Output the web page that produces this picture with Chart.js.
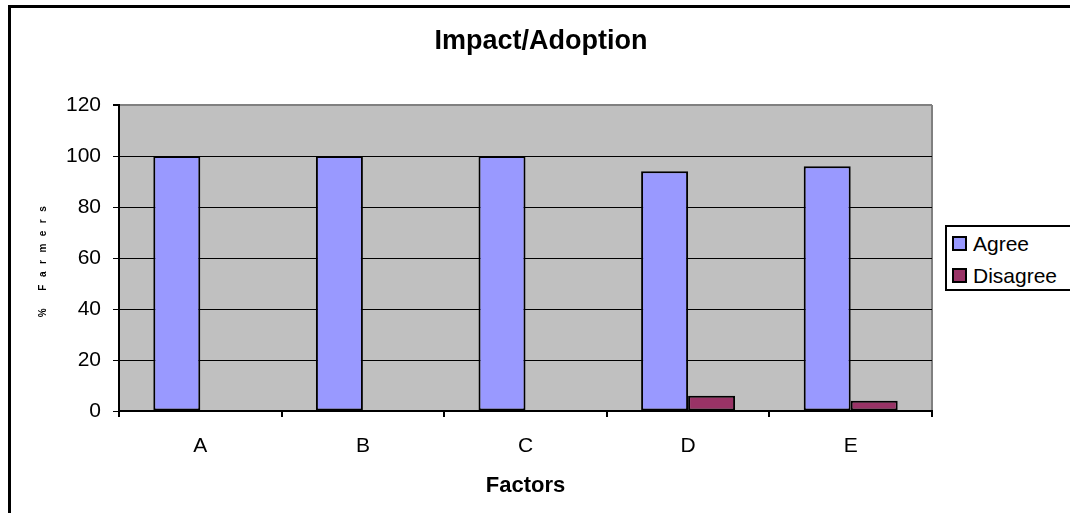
<!DOCTYPE html>
<html>
<head>
<meta charset="utf-8">
<script src="https://cdn.jsdelivr.net/npm/chart.js"></script>
<style>
  body { margin: 0; background: #fff; overflow: hidden; font-family: "Liberation Sans", Arial, sans-serif; }
  #wrap { position: relative; width: 1070px; height: 513px; }
  #frame { position: absolute; left: 8px; top: 5px; width: 1200px; height: 700px;
           border-left: 3px solid #000; border-top: 3px solid #000; pointer-events: none; }
  #legend { position: absolute; left: 945px; top: 225px; width: 140px; height: 62px;
            border: 2px solid #000; background: #fff; }
  .swatch { position: absolute; left: 5px; width: 15px; height: 15px; box-sizing: border-box; border: 2px solid #000; }
  .lbl { position: absolute; left: 26px; font-size: 21px; line-height: 21px; color: #000; white-space: nowrap; }
</style>
</head>
<body>
<div id="wrap">
  <canvas id="chart" width="1070" height="513"></canvas>
  <div id="frame"></div>
  <div id="legend"></div>
</div>
<script>
// data
var factors = ["A", "B", "C", "D", "E"];
var agree = [100, 100, 100, 94, 96];
var disagree = [0, 0, 0, 6, 4];
var seriesNames = ["Agree", "Disagree"];
var yMin = 0, yMax = 120, yStep = 20;

var chartTitle = "Impact/Adoption";
var xTitle = "Factors";
var yTitle = "% Farmers";

var seriesColors = ["#9999FF", "#993366"];
var font = "'Liberation Sans', Arial, sans-serif";

Chart.defaults.color = "#000";
Chart.defaults.font.family = font;

// gray plot area plus its gray right edge
var plotBack = {
  id: "plotBack",
  beforeDraw: function(chart) {
    var a = chart.chartArea, ctx = chart.ctx;
    ctx.save();
    ctx.fillStyle = "#C0C0C0";
    ctx.fillRect(a.left, a.top, a.right - a.left, a.bottom - a.top);
    ctx.strokeStyle = "#808080";
    ctx.lineWidth = 2;
    ctx.beginPath();
    ctx.moveTo(a.right, a.top);
    ctx.lineTo(a.right, a.bottom);
    ctx.stroke();
    ctx.restore();
  }
};

// spaced-out y title like the original
var yTitlePlugin = {
  id: "yTitlePlugin",
  afterDraw: function(chart) {
    var a = chart.chartArea, ctx = chart.ctx;
    ctx.save();
    ctx.translate(43, (a.top + a.bottom) / 2);
    ctx.rotate(-Math.PI / 2);
    ctx.font = "bold 10px " + font;
    ctx.letterSpacing = "7.5px";
    ctx.textAlign = "center";
    ctx.textBaseline = "middle";
    ctx.fillStyle = "#000";
    ctx.fillText(yTitle, 0, 0);
    ctx.restore();
  }
};

var ctx = document.getElementById("chart");
var myChart = new Chart(ctx, {
  type: "bar",
  data: {
    labels: factors,
    datasets: [{
      label: seriesNames[0],
      data: agree,
      backgroundColor: seriesColors[0],
      borderColor: "#000",
      borderWidth: 2,
      borderSkipped: false,
      barPercentage: 1,
      categoryPercentage: 0.578
    }, {
      label: seriesNames[1],
      data: disagree,
      backgroundColor: seriesColors[1],
      borderColor: "#000",
      borderWidth: 2,
      borderSkipped: false,
      barPercentage: 1,
      categoryPercentage: 0.578
    }]
  },
  options: {
    responsive: false,
    animation: false,
    layout: { padding: { left: 12, right: 0, top: 0, bottom: 0 } },
    plugins: {
      legend: { display: false },
      tooltip: { enabled: false },
      title: {
        display: true,
        text: chartTitle,
        color: "#000",
        font: { size: 27, weight: "bold" },
        padding: { top: 25, bottom: 47.6 }
      }
    },
    scales: {
      x: {
        grid: { display: true, offset: true, drawOnChartArea: false, color: "#000", tickLength: 6, lineWidth: 2 },
        border: { color: "#000", width: 2 },
        ticks: { font: { size: 21 }, padding: 17, color: "#000" },
        title: { display: true, text: xTitle, font: { size: 22, weight: "bold" }, padding: { top: 0, bottom: 14 }, color: "#000" },
        afterFit: function(s) { s.height = 102; }
      },
      y: {
        min: yMin,
        max: yMax,
        ticks: { stepSize: yStep, font: { size: 21 }, padding: 12, color: "#000" },
        grid: {
          color: function(c) { return c.tick && c.tick.value === yMax ? "#808080" : "#000"; },
          tickColor: "#000",
          tickLength: 6,
          lineWidth: function(c) { return c.tick && c.tick.value === yMax ? 2 : 1; }
        },
        border: { color: "#000", width: 2 },
        afterFit: function(s) { s.width = 107; }
      },
      yRight: {
        position: "right",
        display: true,
        grid: { display: false },
        border: { display: false },
        ticks: { display: false },
        afterFit: function(s) { s.width = 138; }
      }
    }
  },
  plugins: [plotBack, yTitlePlugin]
});

// legend drawn as html next to the plot
var legendBox = document.getElementById("legend");
for (var i = 0; i < seriesNames.length; i++) {
  var sw = document.createElement("div");
  sw.className = "swatch";
  sw.style.top = (9 + i * 32) + "px";
  sw.style.background = seriesColors[i];
  legendBox.appendChild(sw);
  var tx = document.createElement("div");
  tx.className = "lbl";
  tx.style.top = (6 + i * 32) + "px";
  tx.textContent = seriesNames[i];
  legendBox.appendChild(tx);
}
</script>
</body>
</html>
